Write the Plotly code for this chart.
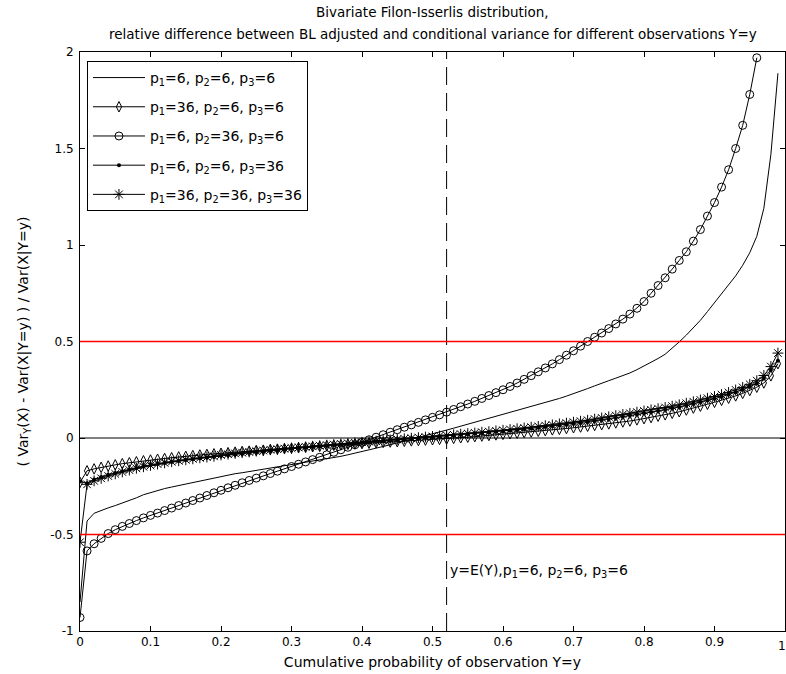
import plotly.graph_objects as go

# Cumulative probability of the observation Y=y
P = [0.00, 0.01, 0.02, 0.03, 0.04, 0.05, 0.06, 0.07, 0.08, 0.09,
     0.10, 0.11, 0.12, 0.13, 0.14, 0.15, 0.16, 0.17, 0.18, 0.19,
     0.20, 0.21, 0.22, 0.23, 0.24, 0.25, 0.26, 0.27, 0.28, 0.29,
     0.30, 0.31, 0.32, 0.33, 0.34, 0.35, 0.36, 0.37, 0.38, 0.39,
     0.40, 0.41, 0.42, 0.43, 0.44, 0.45, 0.46, 0.47, 0.48, 0.49,
     0.50, 0.51, 0.52, 0.53, 0.54, 0.55, 0.56, 0.57, 0.58, 0.59,
     0.60, 0.61, 0.62, 0.63, 0.64, 0.65, 0.66, 0.67, 0.68, 0.69,
     0.70, 0.71, 0.72, 0.73, 0.74, 0.75, 0.76, 0.77, 0.78, 0.79,
     0.80, 0.81, 0.82, 0.83, 0.84, 0.85, 0.86, 0.87, 0.88, 0.89,
     0.90, 0.91, 0.92, 0.93, 0.94, 0.95, 0.96, 0.97, 0.98, 0.99]

# Relative difference (Var_Y(X) - Var(X|Y=y)) / Var(X|Y=y) for each parameter set
REL_6_6_6 = [-0.850, -0.430, -0.390, -0.375, -0.362, -0.350, -0.338, -0.324, -0.310, -0.294,
             -0.282, -0.272, -0.262, -0.254, -0.246, -0.238, -0.230, -0.222, -0.214, -0.206,
             -0.199, -0.192, -0.185, -0.180, -0.174, -0.168, -0.163, -0.157, -0.152, -0.146,
             -0.141, -0.135, -0.129, -0.123, -0.117, -0.110, -0.103, -0.095, -0.087, -0.079,
             -0.071, -0.062, -0.053, -0.044, -0.035, -0.026, -0.017, -0.008, 0.002, 0.012,
             0.021, 0.031, 0.041, 0.051, 0.061, 0.071, 0.081, 0.091, 0.101, 0.111,
             0.121, 0.131, 0.141, 0.151, 0.161, 0.171, 0.182, 0.193, 0.205, 0.217,
             0.229, 0.242, 0.256, 0.270, 0.285, 0.297, 0.310, 0.323, 0.337, 0.354,
             0.372, 0.392, 0.412, 0.434, 0.465, 0.498, 0.533, 0.570, 0.610, 0.655,
             0.702, 0.745, 0.790, 0.840, 0.895, 0.960, 1.045, 1.190, 1.470, 1.890]

REL_36_6_6 = [-0.230, -0.170, -0.160, -0.152, -0.145, -0.139, -0.133, -0.128, -0.123, -0.118,
              -0.114, -0.110, -0.106, -0.102, -0.098, -0.095, -0.091, -0.088, -0.085, -0.082,
              -0.079, -0.076, -0.073, -0.070, -0.068, -0.065, -0.063, -0.060, -0.058, -0.055,
              -0.053, -0.050, -0.048, -0.045, -0.043, -0.040, -0.038, -0.036, -0.033, -0.031,
              -0.029, -0.027, -0.025, -0.023, -0.021, -0.019, -0.017, -0.015, -0.013, -0.011,
              -0.009, -0.007, -0.005, -0.002, 0.001, 0.004, 0.007, 0.010, 0.013, 0.016,
              0.019, 0.022, 0.025, 0.028, 0.031, 0.035, 0.038, 0.042, 0.045, 0.049,
              0.053, 0.057, 0.061, 0.065, 0.069, 0.073, 0.078, 0.083, 0.088, 0.094,
              0.100, 0.106, 0.113, 0.120, 0.128, 0.136, 0.145, 0.155, 0.165, 0.175,
              0.185, 0.195, 0.206, 0.218, 0.231, 0.246, 0.263, 0.285, 0.322, 0.385]

P_6_36_6 = P[:97]
REL_6_36_6 = [-0.930, -0.585, -0.548, -0.520, -0.495, -0.475, -0.458, -0.443, -0.428, -0.414,
              -0.401, -0.389, -0.376, -0.363, -0.350, -0.337, -0.324, -0.311, -0.298, -0.284,
              -0.271, -0.258, -0.245, -0.232, -0.220, -0.208, -0.196, -0.184, -0.172, -0.160,
              -0.148, -0.136, -0.124, -0.112, -0.100, -0.087, -0.074, -0.061, -0.048, -0.035,
              -0.022, -0.009, 0.004, 0.017, 0.030, 0.043, 0.056, 0.068, 0.081, 0.094,
              0.107, 0.120, 0.134, 0.148, 0.162, 0.176, 0.190, 0.205, 0.220, 0.235,
              0.250, 0.267, 0.285, 0.304, 0.323, 0.343, 0.363, 0.384, 0.406, 0.429,
              0.452, 0.476, 0.500, 0.522, 0.544, 0.567, 0.591, 0.616, 0.642, 0.672,
              0.707, 0.750, 0.790, 0.830, 0.875, 0.920, 0.965, 1.020, 1.080, 1.150,
              1.220, 1.300, 1.390, 1.500, 1.620, 1.780, 1.970]

REL_6_6_36 = [-0.225, -0.235, -0.215, -0.202, -0.191, -0.181, -0.172, -0.163, -0.155, -0.148,
              -0.141, -0.135, -0.129, -0.124, -0.119, -0.114, -0.110, -0.105, -0.101, -0.097,
              -0.093, -0.089, -0.085, -0.081, -0.077, -0.073, -0.070, -0.066, -0.063, -0.059,
              -0.056, -0.053, -0.050, -0.047, -0.044, -0.041, -0.038, -0.035, -0.032, -0.029,
              -0.026, -0.023, -0.020, -0.017, -0.014, -0.011, -0.008, -0.005, -0.002, 0.001,
              0.004, 0.007, 0.010, 0.013, 0.016, 0.019, 0.022, 0.025, 0.028, 0.032,
              0.035, 0.039, 0.042, 0.046, 0.050, 0.054, 0.058, 0.062, 0.066, 0.070,
              0.075, 0.079, 0.084, 0.089, 0.094, 0.099, 0.104, 0.110, 0.116, 0.122,
              0.128, 0.134, 0.140, 0.147, 0.154, 0.161, 0.169, 0.177, 0.186, 0.195,
              0.204, 0.214, 0.225, 0.237, 0.250, 0.265, 0.283, 0.310, 0.352, 0.400]

REL_36_36_36 = [-0.540, -0.240, -0.222, -0.209, -0.197, -0.186, -0.176, -0.166, -0.157, -0.149,
                -0.142, -0.135, -0.129, -0.123, -0.118, -0.113, -0.108, -0.103, -0.099, -0.095,
                -0.088, -0.084, -0.080, -0.076, -0.072, -0.068, -0.065, -0.061, -0.058, -0.055,
                -0.052, -0.049, -0.046, -0.043, -0.040, -0.037, -0.034, -0.031, -0.028, -0.025,
                -0.022, -0.019, -0.016, -0.013, -0.010, -0.007, -0.004, -0.001, 0.002, 0.005,
                0.008, 0.011, 0.014, 0.017, 0.020, 0.023, 0.026, 0.030, 0.033, 0.037,
                0.040, 0.044, 0.048, 0.052, 0.056, 0.060, 0.064, 0.068, 0.073, 0.077,
                0.082, 0.087, 0.092, 0.098, 0.104, 0.110, 0.116, 0.122, 0.128, 0.134,
                0.140, 0.146, 0.152, 0.158, 0.165, 0.172, 0.180, 0.188, 0.197, 0.206,
                0.215, 0.225, 0.236, 0.249, 0.262, 0.278, 0.297, 0.324, 0.370, 0.440]

# Reference levels
E_Y = 0.52            # E(Y) for p1=6, p2=6, p3=6
E_Y_LABEL_LEVEL = -0.69
UPPER_LEVEL = 0.5
LOWER_LEVEL = -0.5
ZERO_LEVEL = 0.0
X_SPAN = [0.0, 1.0]
Y_SPAN = [-1.0, 2.0]
X_TICKS = [0, 0.1, 0.2, 0.3, 0.4, 0.5, 0.6, 0.7, 0.8, 0.9, 1]
X_TICK_TEXT = ["0", "0.1", "0.2", "0.3", "0.4", "0.5", "0.6", "0.7", "0.8", "0.9", ""]
X_LAST_TICK_TEXT = "1"
Y_TICKS = [-1, -0.5, 0, 0.5, 1, 1.5, 2]
Y_TICK_TEXT = ["-1", "-0.5", "0", "0.5", "1", "1.5", "2"]

FONT = "DejaVu Sans, Verdana, sans-serif"
RED = "#ff0000"

fig = go.Figure()

series = [
    (P, REL_6_6_6, "p<sub>1</sub>=6, p<sub>2</sub>=6, p<sub>3</sub>=6", "lines", None),
    (P, REL_36_6_6, "p<sub>1</sub>=36, p<sub>2</sub>=6, p<sub>3</sub>=6", "lines+markers",
     dict(symbol="diamond-tall-open", size=7.5, color="black", line=dict(width=1, color="#333333"))),
    (P_6_36_6, REL_6_36_6, "p<sub>1</sub>=6, p<sub>2</sub>=36, p<sub>3</sub>=6", "lines+markers",
     dict(symbol="circle-open", size=8, color="black", line=dict(width=1, color="black"))),
    (P, REL_6_6_36, "p<sub>1</sub>=6, p<sub>2</sub>=6, p<sub>3</sub>=36", "lines+markers",
     dict(symbol="circle", size=4, color="black", line=dict(width=0))),
    (P, REL_36_36_36, "p<sub>1</sub>=36, p<sub>2</sub>=36, p<sub>3</sub>=36", "lines+markers",
     dict(symbol="asterisk-open", size=9, color="black", line=dict(width=1, color="black"))),
]

for i, (xs, ys, name, mode, marker) in enumerate(series):
    kw = dict(x=xs, y=ys, name=name, mode=mode, legendgroup=f"g{i}",
              line=dict(color="black", width=1))
    if marker is not None:
        kw["marker"] = marker
    fig.add_trace(go.Scatter(**kw))

# zero line
fig.add_shape(type="line", xref="x", yref="y", x0=X_SPAN[0], x1=X_SPAN[1],
              y0=ZERO_LEVEL, y1=ZERO_LEVEL, layer="above",
              line=dict(color="black", width=1))

# vertical marker at E(Y)
fig.add_shape(type="line", xref="x", yref="y", x0=E_Y, x1=E_Y,
              y0=Y_SPAN[0], y1=Y_SPAN[1], layer="above",
              line=dict(color="black", width=1, dash="18px,8px"))

# the +/-0.5 band
fig.add_shape(type="line", xref="x", yref="y", x0=X_SPAN[0], x1=X_SPAN[1],
              y0=LOWER_LEVEL, y1=LOWER_LEVEL, layer="above",
              line=dict(color=RED, width=1.4))
fig.add_shape(type="line", xref="x", yref="y", x0=X_SPAN[0], x1=X_SPAN[1],
              y0=UPPER_LEVEL, y1=UPPER_LEVEL, layer="above",
              line=dict(color=RED, width=1.4))

fig.add_annotation(x=E_Y, y=E_Y_LABEL_LEVEL, xref="x", yref="y", xanchor="left", yanchor="middle",
                   xshift=1, showarrow=False,
                   text="y=E(Y),p<sub>1</sub>=6, p<sub>2</sub>=6, p<sub>3</sub>=6",
                   font=dict(family=FONT, size=14, color="black"))

# right-most x tick label, kept inside the page
fig.add_annotation(x=1, y=0, xref="x", yref="paper", xanchor="right", yanchor="top",
                   xshift=3, yshift=-6, showarrow=False, text=X_LAST_TICK_TEXT,
                   font=dict(family=FONT, size=12, color="black"))

# two-line title
fig.add_annotation(x=0.5, y=1, xref="paper", yref="paper", yshift=40, showarrow=False,
                   xanchor="center", yanchor="middle",
                   text="Bivariate Filon-Isserlis distribution,",
                   font=dict(family=FONT, size=13.5, color="black"))
fig.add_annotation(x=0.5, y=1, xref="paper", yref="paper", yshift=18, showarrow=False,
                   xanchor="center", yanchor="middle",
                   text="relative difference between BL adjusted and conditional variance for different observations Y=y",
                   font=dict(family=FONT, size=13.5, color="black"))

fig.update_layout(
    width=786, height=674,
    margin=dict(l=80, r=1, t=52, b=43),
    paper_bgcolor="white", plot_bgcolor="white",
    font=dict(family=FONT, size=12, color="black"),
    showlegend=True,
    legend=dict(x=0.0099, y=0.9845, xanchor="left", yanchor="top",
                bordercolor="black", borderwidth=1, bgcolor="white",
                font=dict(family=FONT, size=14, color="black"),
                tracegroupgap=8, itemwidth=52),
    xaxis=dict(range=X_SPAN, tickvals=X_TICKS, ticktext=X_TICK_TEXT,
               showgrid=False, zeroline=False, showline=True, linecolor="black", linewidth=1,
               mirror="ticks", ticks="inside", ticklen=5, tickcolor="black",
               tickfont=dict(family=FONT, size=12),
               title=dict(text="Cumulative probability of observation Y=y", standoff=8,
                          font=dict(family=FONT, size=14))),
    yaxis=dict(range=Y_SPAN, tickvals=Y_TICKS, ticktext=Y_TICK_TEXT,
               showgrid=False, zeroline=False, showline=True, linecolor="black", linewidth=1,
               mirror="ticks", ticks="inside", ticklen=5, tickcolor="black",
               tickfont=dict(family=FONT, size=12), ticklabelstandoff=3,
               title=dict(text="( Var<sub>Y</sub>(X) - Var(X|Y=y) ) / Var(X|Y=y)", standoff=18,
                          font=dict(family=FONT, size=14))),
)

fig.write_html("out.html")
